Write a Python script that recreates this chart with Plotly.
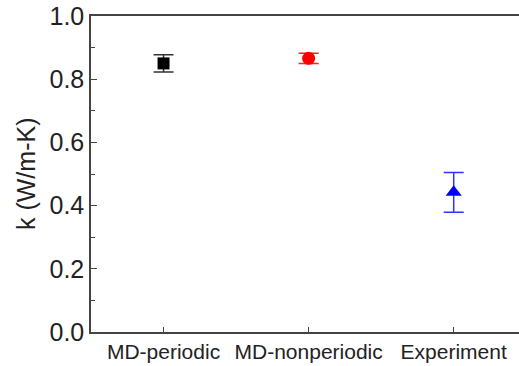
import plotly.graph_objects as go

categories = ["MD-periodic", "MD-nonperiodic", "Experiment"]
k_values = [0.850, 0.866, 0.442]
k_errors = [0.027, 0.016, 0.063]
colors = ["#000000", "#ff0000", "#0000ff"]
err_colors = ["#333333", "#ff2020", "#3030ff"]
symbols = ["square", "circle", "triangle-up"]
marker_sizes = [12, 13, 14]
y_ticks = [0.0, 0.2, 0.4, 0.6, 0.8, 1.0]

FONT = "Liberation Sans, Arial, sans-serif"
fig = go.Figure()
for i, cat in enumerate(categories):
    fig.add_trace(go.Scatter(
        x=[i], y=[k_values[i]],
        mode="markers",
        marker=dict(symbol=symbols[i], size=marker_sizes[i], color=colors[i], line=dict(width=0)),
        error_y=dict(type="data", array=[k_errors[i]], visible=True,
                     color=err_colors[i], thickness=1.5, width=10),
        showlegend=False,
    ))

fig.update_layout(
    width=519, height=366,
    margin=dict(l=91, r=0, t=16, b=34),
    paper_bgcolor="white", plot_bgcolor="white",
    font=dict(family=FONT, color="#222222"),
    xaxis=dict(
        range=[-0.5, 2.45],
        tickmode="array", tickvals=[0, 1, 2], ticktext=categories,
        ticks="inside", ticklen=5, tickwidth=1, tickcolor="#444444",
        showline=True, linecolor="#444444", linewidth=1.5, mirror=True,
        showgrid=False, zeroline=False,
        tickfont=dict(size=21, family=FONT, color="#222222"),
    ),
    yaxis=dict(
        range=[0, 1.0],
        tickmode="array", tickvals=y_ticks, ticktext=[f"{v:.1f}" for v in y_ticks],
        ticks="inside", ticklen=6, tickwidth=1, tickcolor="#444444",
        minor=dict(dtick=0.1, ticks="inside", ticklen=4, tickcolor="#444444", showgrid=False),
        showline=True, linecolor="#444444", linewidth=1.5, mirror=False,
        showgrid=False, zeroline=False,
        tickfont=dict(size=25, family=FONT, color="#222222"),
    ),
    annotations=[dict(
        text="k (W/m-K)", xref="paper", yref="paper", x=0, y=0.5,
        xanchor="center", yanchor="middle", xshift=-65, textangle=-90,
        showarrow=False, font=dict(size=25, family=FONT, color="#222222"),
    )],
)

fig.write_html("out.html")
